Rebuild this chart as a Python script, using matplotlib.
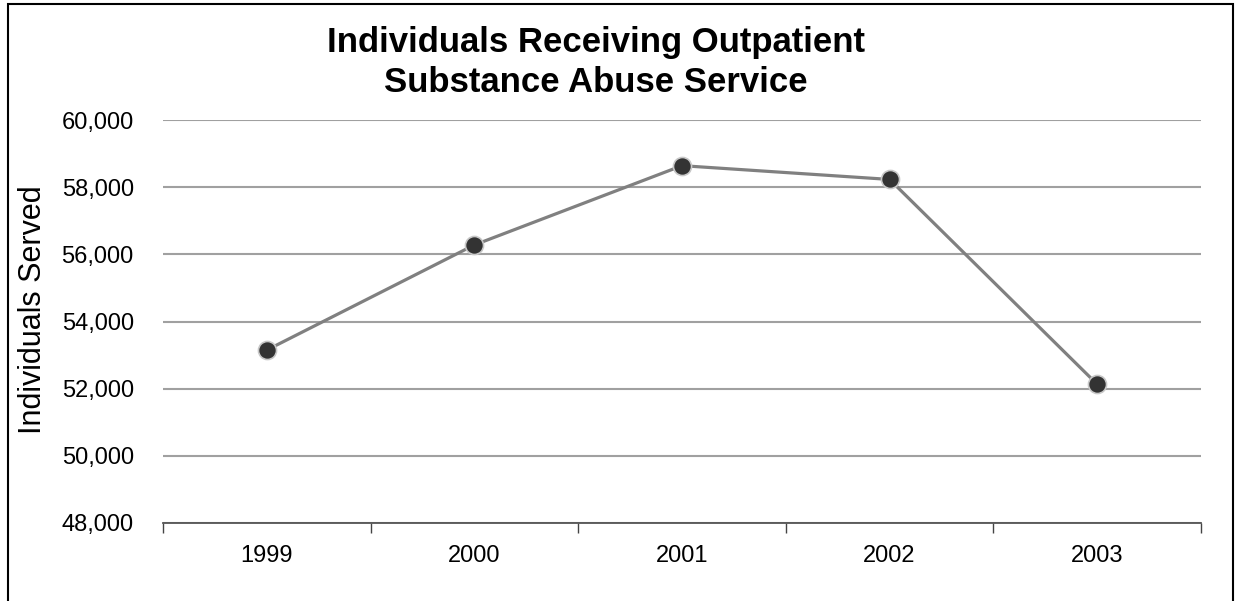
import matplotlib
matplotlib.use("Agg")
import matplotlib.pyplot as plt
from matplotlib.patches import Rectangle
from matplotlib.ticker import FuncFormatter, FixedLocator

years = ["1999", "2000", "2001", "2002", "2003"]
individuals = [53150, 56280, 58640, 58230, 52130]
y_ticks = [48000, 50000, 52000, 54000, 56000, 58000, 60000]

title_lines = ["Individuals Receiving Outpatient", "Substance Abuse Service"]
y_label = "Individuals Served"

plt.rcParams["font.family"] = ["Liberation Sans", "DejaVu Sans"]

W, H = 1235, 601
fig = plt.figure(figsize=(W / 100, H / 100), dpi=100)

left, right, top, bottom = 163, 1201, 120, 523
ax = fig.add_axes([left / W, 1 - bottom / H, (right - left) / W, (bottom - top) / H])

x = list(range(len(years)))
ax.plot(x, individuals, color="#808080", lw=2.3, zorder=3,
        marker="o", markersize=13, markerfacecolor="#333333",
        markeredgecolor="#c8c8c8", markeredgewidth=1.2)

ax.set_xlim(-0.5, len(years) - 0.5)
ax.set_ylim(y_ticks[0], y_ticks[-1])
ax.set_yticks(y_ticks)
ax.yaxis.set_major_formatter(FuncFormatter(lambda v, p: f"{int(v):,}"))
ax.tick_params(axis="y", length=0, pad=21, labelsize=17)

ax.set_xticks(x)
ax.set_xticklabels(years)
ax.tick_params(axis="x", which="major", length=0, pad=16, labelsize=17)
ax.xaxis.set_minor_locator(FixedLocator([i - 0.5 for i in range(len(years) + 1)]))
ax.tick_params(axis="x", which="minor", length=7, width=1, color="#444444", direction="out")

ax.grid(axis="y", color="#a0a0a0", lw=1.5, zorder=1)
ax.set_axisbelow(True)
for s in ("left", "top", "right"):
    ax.spines[s].set_visible(False)
ax.spines["bottom"].set_color("#555555")
ax.spines["bottom"].set_linewidth(1.3)

cx = 596 / W
fig.text(cx, 1 - 52 / H, title_lines[0], ha="center", va="baseline",
         fontsize=25, fontweight="bold")
fig.text(cx, 1 - 92 / H, title_lines[1], ha="center", va="baseline",
         fontsize=25, fontweight="bold")

fig.text(33 / W, 1 - 310 / H, y_label, rotation=90, ha="center", va="center",
         fontsize=22)

border = Rectangle((8 / W, -0.05), (1233 - 8) / W, 1.05 - 4 / H,
                   transform=fig.transFigure, fill=False, edgecolor="black", lw=1.5)
fig.add_artist(border)

fig.savefig("out.png", dpi=100)
